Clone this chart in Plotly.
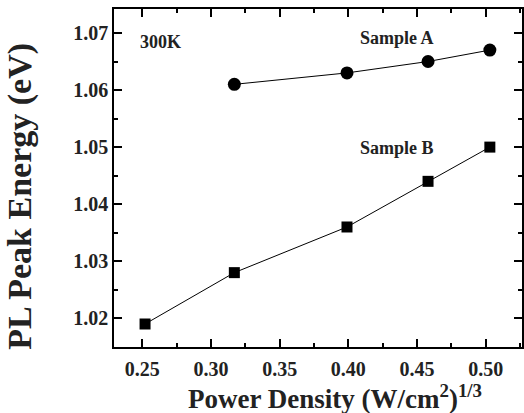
import plotly.graph_objects as go

# Data
x_a = [0.317, 0.399, 0.458, 0.503]
y_a = [1.061, 1.063, 1.065, 1.067]
x_b = [0.252, 0.317, 0.399, 0.458, 0.503]
y_b = [1.019, 1.028, 1.036, 1.044, 1.050]

x_ticks = [0.25, 0.30, 0.35, 0.40, 0.45, 0.50]
x_ticklabels = ["0.25", "0.30", "0.35", "0.40", "0.45", "0.50"]
x_minor = [0.275, 0.325, 0.375, 0.425, 0.475, 0.525]
y_ticks = [1.02, 1.03, 1.04, 1.05, 1.06, 1.07]
y_ticklabels = ["1.02", "1.03", "1.04", "1.05", "1.06", "1.07"]
y_minor = [1.015, 1.025, 1.035, 1.045, 1.055, 1.065]

FONT = "Liberation Serif, Times New Roman, Times, serif"
TXT = "#222"

fig = go.Figure()
fig.add_trace(go.Scatter(
    x=x_a, y=y_a, mode="lines+markers",
    line=dict(color="black", width=1),
    marker=dict(symbol="circle", size=13, color="black"),
    showlegend=False))
fig.add_trace(go.Scatter(
    x=x_b, y=y_b, mode="lines+markers",
    line=dict(color="black", width=1),
    marker=dict(symbol="square", size=11, color="black"),
    showlegend=False))

fig.update_xaxes(
    range=[0.2294, 0.5264], tickmode="array", tickvals=x_ticks, ticktext=x_ticklabels,
    showline=True, linecolor="black", linewidth=1.5, mirror="allticks",
    ticks="inside", ticklen=8, tickwidth=1.5, tickcolor="black",
    showgrid=False, zeroline=False, ticklabelstandoff=3,
    tickfont=dict(family=FONT, size=20, color=TXT, weight="bold"),
    minor=dict(tickvals=x_minor, ticks="inside", ticklen=4, tickcolor="black", tickwidth=1.5))
fig.update_yaxes(
    range=[1.01497, 1.0742], tickmode="array", tickvals=y_ticks, ticktext=y_ticklabels,
    showline=True, linecolor="black", linewidth=1.5, mirror="allticks",
    ticks="inside", ticklen=8, tickwidth=1.5, tickcolor="black",
    showgrid=False, zeroline=False,
    tickfont=dict(family=FONT, size=20, color=TXT, weight="bold"),
    minor=dict(tickvals=y_minor, ticks="inside", ticklen=4, tickcolor="black", tickwidth=1.5))

annots = [
    dict(x=0.263, y=1.0684, xref="x", yref="y", text="<b>300K</b>", showarrow=False,
         font=dict(family=FONT, size=18, color=TXT)),
    dict(x=0.4354, y=1.0691, xref="x", yref="y", text="<b>Sample A</b>", showarrow=False,
         font=dict(family=FONT, size=18, color=TXT)),
    dict(x=0.4354, y=1.0498, xref="x", yref="y", text="<b>Sample B</b>", showarrow=False,
         font=dict(family=FONT, size=18, color=TXT)),
    dict(x=0.542, y=-0.148, xref="paper", yref="paper", text="<b>Power Density (W/cm<sup>2</sup>)<sup>1/3</sup></b>",
         showarrow=False, xanchor="center", yanchor="middle",
         font=dict(family=FONT, size=27, color=TXT)),
    dict(x=-0.2305, y=0.447, xref="paper", yref="paper", text="<b>PL Peak Energy (eV)</b>",
         showarrow=False, textangle=-90, xanchor="center", yanchor="middle",
         font=dict(family=FONT, size=34, color=TXT)),
]

fig.update_layout(
    width=524, height=413,
    margin=dict(l=114, r=2, t=9, b=66, autoexpand=False),
    plot_bgcolor="white", paper_bgcolor="white",
    annotations=annots,
)

fig.write_html("out.html", config={"displayModeBar": False},
               post_script="document.body.style.margin='0px';")
